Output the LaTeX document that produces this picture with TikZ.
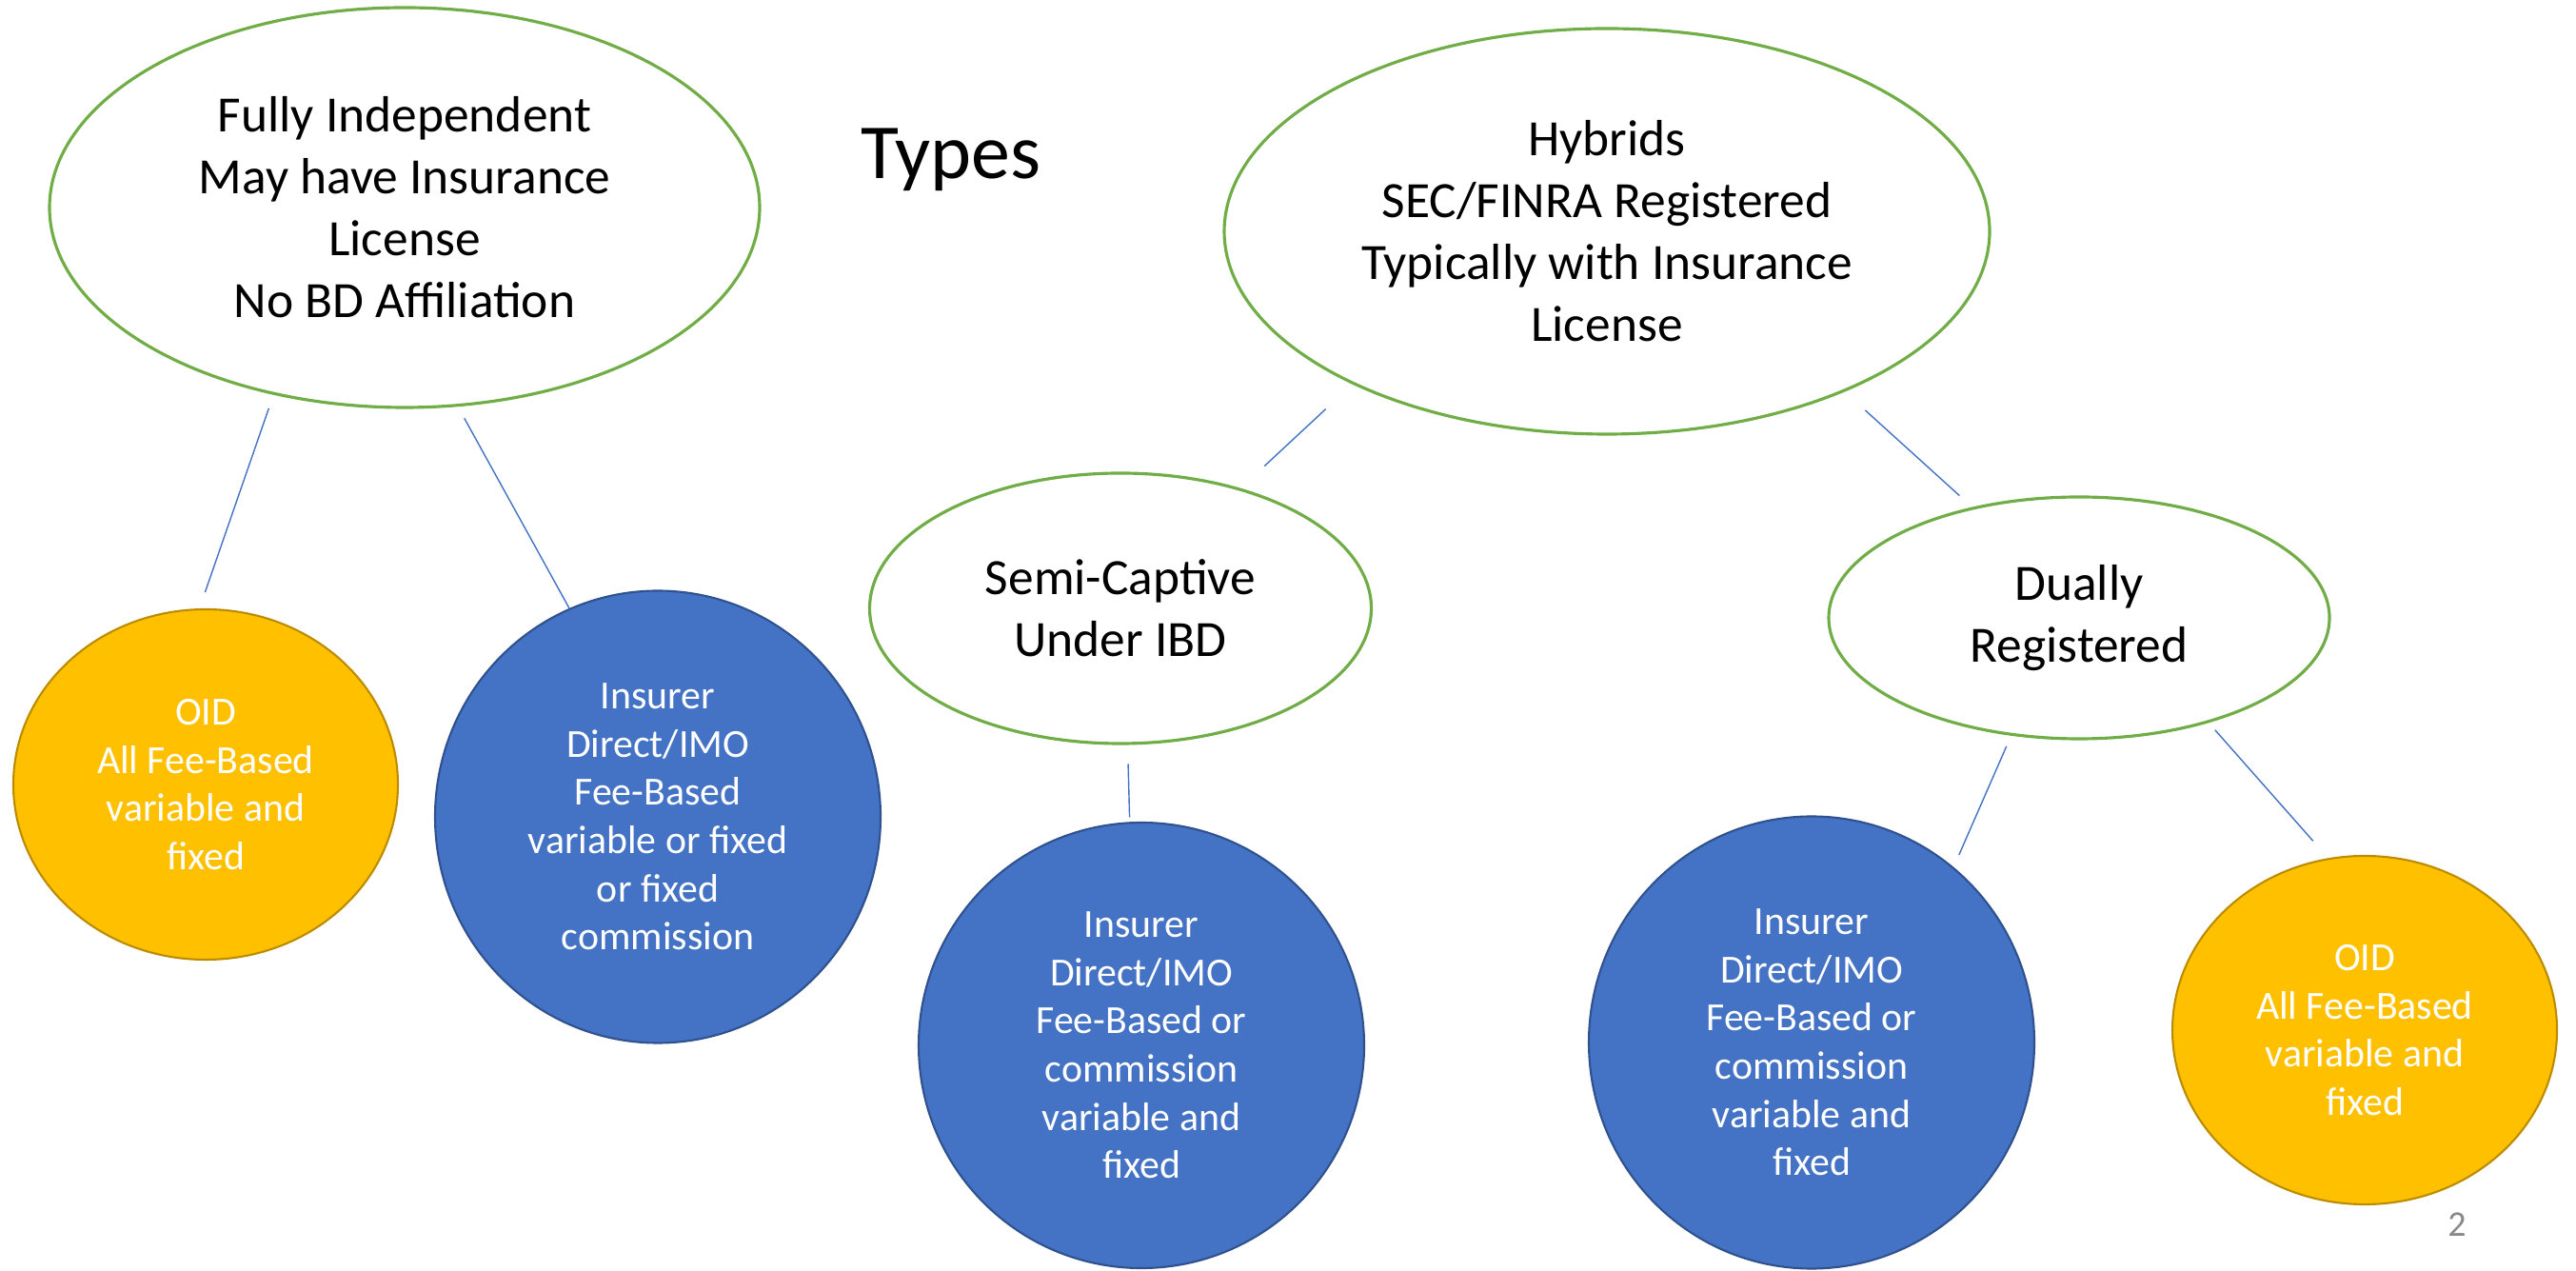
\documentclass[tikz,border=0pt]{standalone}
\usepackage{fontspec}
\setmainfont{Carlito}
\usepackage{tikz}
\usetikzlibrary{shapes.geometric}
\definecolor{typegreen}{HTML}{70AD47}
\definecolor{feeblue}{HTML}{4472C4}
\definecolor{feeblueline}{HTML}{2F528F}
\definecolor{oidgold}{HTML}{FFC000}
\definecolor{oidgoldline}{HTML}{BC8C00}
\definecolor{pagegray}{HTML}{898989}

\begin{document}
\begin{tikzpicture}[
  typeoval/.style={ellipse, draw=typegreen, line width=0.9pt, fill=white, inner sep=0pt,
    align=center, font=\fontsize{15.2}{18.5}\selectfont},
  feeoval/.style={ellipse, draw=feeblueline, line width=0.6pt, fill=feeblue, text=white,
    inner sep=0pt, align=center, font=\fontsize{11.9}{14.4}\selectfont},
  oidoval/.style={ellipse, draw=oidgoldline, line width=0.6pt, fill=oidgold, text=white,
    inner sep=0pt, align=center, font=\fontsize{11.9}{14.4}\selectfont},
  link/.style={draw=feeblue, line width=0.4pt}
]
  \useasboundingbox (0,0) rectangle (27.06,13.34);

  % Title
  \node[anchor=base, font=\fontsize{23.3}{28}\selectfont] (title) at (9.99,11.46) {Types};

  % Top level types
  \node[typeoval, minimum width=7.46cm, minimum height=4.20cm] (indep) at (4.25,11.16)
    {Fully Independent\\May have Insurance\\License\\No BD Affiliation};
  \node[typeoval, minimum width=8.04cm, minimum height=4.26cm] (hybrid) at (16.88,10.91)
    {Hybrids\\SEC/FINRA Registered\\Typically with Insurance\\License};

  % Hybrid sub-types
  \node[typeoval, minimum width=5.27cm, minimum height=2.84cm] (semi) at (11.77,6.95)
    {Semi-Captive\\Under IBD};
  \node[typeoval, minimum width=5.26cm, minimum height=2.54cm] (dually) at (21.84,6.85)
    {Dually\\Registered};

  % Compensation circles
  \node[oidoval, minimum width=4.04cm, minimum height=3.68cm] (oidA) at (2.16,5.10)
    {OID\\All Fee-Based\\variable and\\fixed};
  \node[feeoval, minimum width=4.68cm, minimum height=4.75cm] (insA) at (6.91,4.76)
    {Insurer\\Direct/IMO\\Fee-Based\\variable or fixed\\or fixed\\commission};
  \node[feeoval, minimum width=4.68cm, minimum height=4.68cm] (insB) at (11.99,2.36)
    {Insurer\\Direct/IMO\\Fee-Based or\\commission\\variable and\\fixed};
  \node[feeoval, minimum width=4.68cm, minimum height=4.75cm] (insC) at (19.03,2.39)
    {Insurer\\Direct/IMO\\Fee-Based or\\commission\\variable and\\fixed};
  \node[oidoval, minimum width=4.04cm, minimum height=3.66cm] (oidB) at (24.84,2.52)
    {OID\\All Fee-Based\\variable and\\fixed};

  % Connectors
  \draw[link, shorten <=0.15cm, shorten >=0.18cm] (indep.235) -- (oidA.92);
  \draw[link, shorten <=0.14cm] (indep.285) -- (insA.113);
  \draw[link, shorten <=0.38cm, shorten >=0.34cm] (hybrid.211) -- (semi.45);
  \draw[link, shorten <=0.29cm, shorten >=0.18cm] (hybrid.326) -- (dually.134);
  \draw[link, shorten <=0.20cm, shorten >=0.05cm] (semi.273) -- (insB.93);
  \draw[link, shorten <=0.12cm, shorten >=0.14cm] (dually.240) -- (insC.51);
  \draw[link, shorten <=0.10cm, shorten >=0.24cm] (dually.321) -- (oidB.102);

  % Page number
  \node[anchor=base, text=pagegray, font=\fontsize{10.8}{13}\selectfont] (pagenum) at (25.81,0.35) {2};
\end{tikzpicture}
\end{document}
